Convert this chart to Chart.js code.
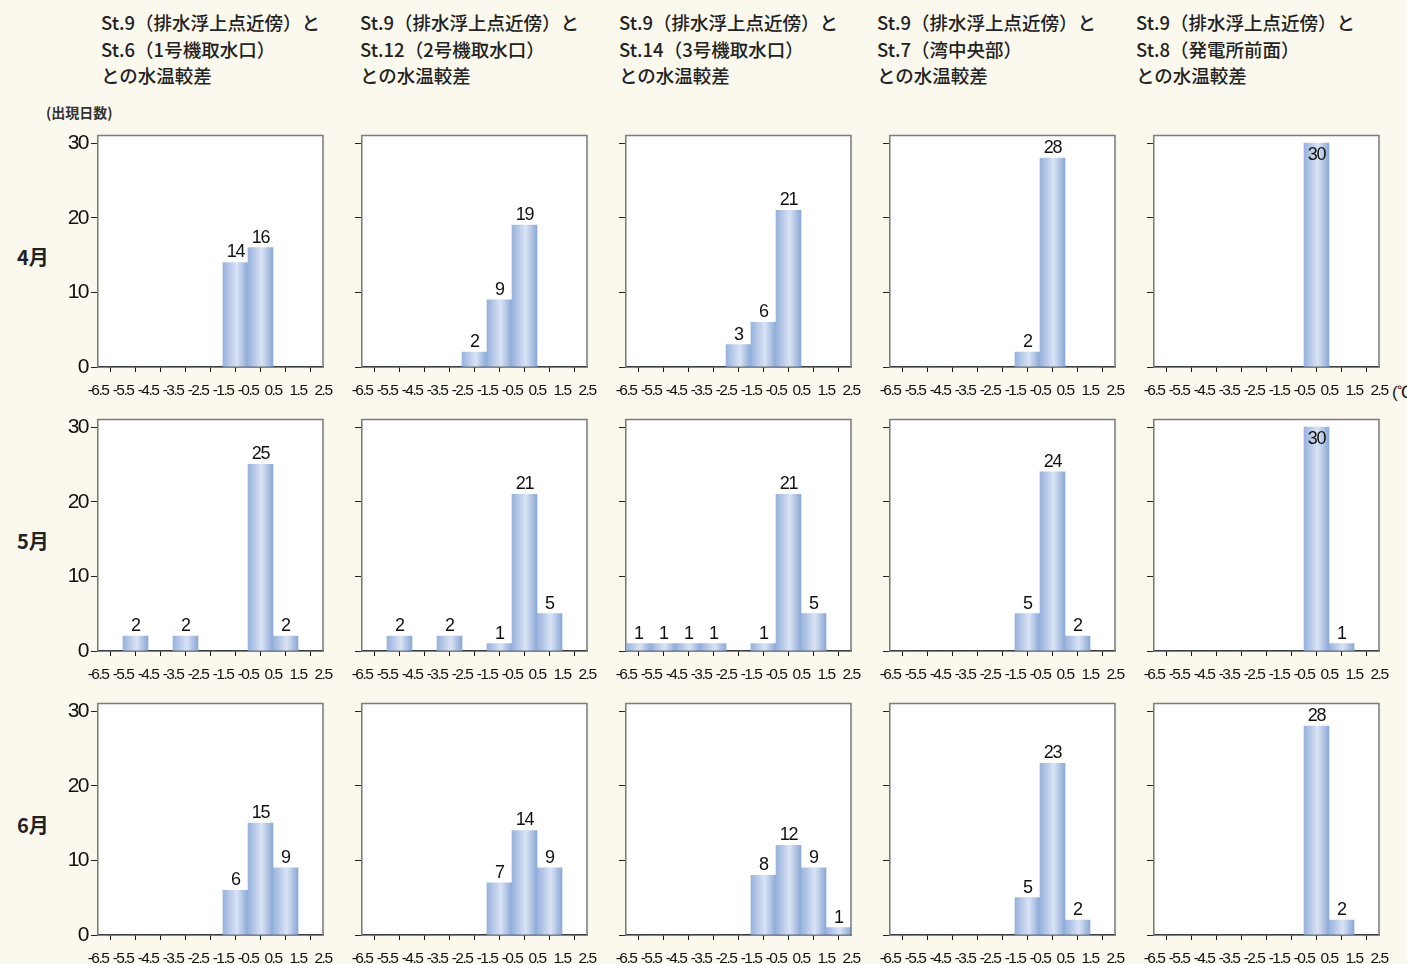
<!DOCTYPE html>
<html lang="ja">
<head>
<meta charset="utf-8">
<script src="https://cdn.jsdelivr.net/npm/chart.js@4/dist/chart.umd.min.js"></script>
<style>
  html, body { margin: 0; padding: 0; }
  body {
    width: 1407px; height: 964px; overflow: hidden; position: relative;
    background: #fbf9ee; font-family: "Noto Sans CJK JP", "Noto Sans", sans-serif;
  }
  .title {
    position: absolute; top: 9px; font-size: 18.5px; line-height: 26.5px;
    color: #222; font-weight: 500; white-space: nowrap;
  }
  .month {
    position: absolute; left: 17px; font-size: 20px; font-weight: bold; color: #222;
  }
  .unit { position: absolute; font-size: 14px; font-weight: bold; color: #333; }
  canvas { position: absolute; }
</style>
</head>
<body>
<div id="wrap"></div>
<script>
/* ── Data ── */
const BINS = [-6, -5, -4, -3, -2, -1, 0, 1, 2];
const X_TICKS = [-6.5, -5.5, -4.5, -3.5, -2.5, -1.5, -0.5, 0.5, 1.5, 2.5];
const Y_TICKS = [0, 10, 20, 30];
const MONTHS = ["4月", "5月", "6月"];
const TITLES = [
  ["St.9（排水浮上点近傍）と", "St.6（1号機取水口）", "との水温較差"],
  ["St.9（排水浮上点近傍）と", "St.12（2号機取水口）", "との水温較差"],
  ["St.9（排水浮上点近傍）と", "St.14（3号機取水口）", "との水温較差"],
  ["St.9（排水浮上点近傍）と", "St.7（湾中央部）", "との水温較差"],
  ["St.9（排水浮上点近傍）と", "St.8（発電所前面）", "との水温較差"],
];

// 出現日数 per bin (-6.5〜2.5, 1.0 step)
const APR_ST6 = [0, 0, 0, 0, 0, 14, 16, 0, 0];
const APR_ST12 = [0, 0, 0, 0, 2, 9, 19, 0, 0];
const APR_ST14 = [0, 0, 0, 0, 3, 6, 21, 0, 0];
const APR_ST7 = [0, 0, 0, 0, 0, 2, 28, 0, 0];
const APR_ST8 = [0, 0, 0, 0, 0, 0, 30, 0, 0];

const MAY_ST6 = [0, 2, 0, 2, 0, 0, 25, 2, 0];
const MAY_ST12 = [0, 2, 0, 2, 0, 1, 21, 5, 0];
const MAY_ST14 = [1, 1, 1, 1, 0, 1, 21, 5, 0];
const MAY_ST7 = [0, 0, 0, 0, 0, 5, 24, 2, 0];
const MAY_ST8 = [0, 0, 0, 0, 0, 0, 30, 1, 0];

const JUN_ST6 = [0, 0, 0, 0, 0, 6, 15, 9, 0];
const JUN_ST12 = [0, 0, 0, 0, 0, 7, 14, 9, 0];
const JUN_ST14 = [0, 0, 0, 0, 0, 8, 12, 9, 1];
const JUN_ST7 = [0, 0, 0, 0, 0, 5, 23, 2, 0];
const JUN_ST8 = [0, 0, 0, 0, 0, 0, 28, 2, 0];

const ROWS = [
  [APR_ST6, APR_ST12, APR_ST14, APR_ST7, APR_ST8],
  [MAY_ST6, MAY_ST12, MAY_ST14, MAY_ST7, MAY_ST8],
  [JUN_ST6, JUN_ST12, JUN_ST14, JUN_ST7, JUN_ST8],
];

/* ── Layout ── */
const BOX_L = [98, 362, 626, 890, 1154];
const BOX_T = [134, 418, 702];
const BOX_W = 225, BOX_H = 233;
const Y_W = 55, PAD_T = 14, PAD_R = 24, X_H = 34;
const TITLE_L = [101, 360, 619, 877, 1136];
const SANS = "'Liberation Sans Narrow', 'Liberation Sans', Arial, sans-serif";

const wrap = document.getElementById("wrap");
TITLES.forEach((t, c) => {
  const d = document.createElement("div");
  d.className = "title";
  d.style.left = TITLE_L[c] + "px";
  d.innerHTML = t.join("<br>");
  wrap.appendChild(d);
});
MONTHS.forEach((m, r) => {
  const d = document.createElement("div");
  d.className = "month";
  d.style.top = BOX_T[r] + 108 + "px";
  d.textContent = m;
  wrap.appendChild(d);
});
const unitY = document.createElement("div");
unitY.className = "unit";
unitY.style.left = "46px";
unitY.style.top = "102px";
unitY.textContent = "(出現日数)";
wrap.appendChild(unitY);
const unitX = document.createElement("div");
unitX.className = "unit";
unitX.style.cssText = `left:1392px;top:381px;font-weight:normal;font-size:17px;font-family:${SANS};color:#111;letter-spacing:-1px`;
unitX.textContent = "(℃)";
wrap.appendChild(unitX);

/* ── Plugins ── */
// condensed look for all canvas text
const tightText = {
  id: "tightText",
  beforeDraw(chart) {
    chart.ctx.letterSpacing = "-1.5px";
  },
};
const plotBg = {
  id: "plotBg",
  beforeDraw(chart) {
    const { ctx, chartArea: a } = chart;
    ctx.save();
    ctx.fillStyle = "#fff";
    ctx.fillRect(a.left, a.top, a.right - a.left, a.bottom - a.top);
    ctx.restore();
  },
};
const frame = {
  id: "frame",
  afterDatasetsDraw(chart) {
    const { ctx, chartArea: a } = chart;
    ctx.save();
    ctx.strokeStyle = "#7a7a7a";
    ctx.lineWidth = 1.5;
    ctx.beginPath();
    ctx.moveTo(a.left, a.top);
    ctx.lineTo(a.right, a.top);
    ctx.lineTo(a.right, a.bottom);
    ctx.stroke();
    ctx.restore();
  },
};
const valueLabels = {
  id: "valueLabels",
  afterDatasetsDraw(chart) {
    const { ctx } = chart;
    const vals = chart.data.datasets[0].data;
    ctx.save();
    ctx.font = `18px ${SANS}`;
    ctx.letterSpacing = "-1.2px";
    ctx.fillStyle = "#111";
    ctx.textAlign = "center";
    chart.getDatasetMeta(0).data.forEach((bar, i) => {
      const v = vals[i].y;
      if (!v) return;
      if (v >= 30) {
        ctx.textBaseline = "top";
        ctx.fillText(v, bar.x, bar.y + 3);
      } else {
        ctx.textBaseline = "bottom";
        ctx.fillText(v, bar.x, bar.y - 1);
      }
    });
    ctx.restore();
  },
};

function barGradient(ctx) {
  const chart = ctx.chart;
  const xs = chart.scales.x;
  if (!chart.chartArea || !xs) return "#b7c9e8";
  const l = xs.getPixelForValue(BINS[ctx.dataIndex] - 0.5);
  const r = xs.getPixelForValue(BINS[ctx.dataIndex] + 0.5);
  const g = chart.ctx.createLinearGradient(l, 0, r, 0);
  g.addColorStop(0, "#97b2dd");
  g.addColorStop(0.55, "#dae3f4");
  g.addColorStop(1, "#8aa8d7");
  return g;
}

/* ── Charts ── */
ROWS.forEach((row, r) => {
  row.forEach((vals, c) => {
    const cv = document.createElement("canvas");
    const w = Y_W + BOX_W + PAD_R;
    const h = PAD_T + BOX_H + X_H;
    cv.width = w;
    cv.height = h;
    cv.style.left = BOX_L[c] - Y_W + "px";
    cv.style.top = BOX_T[r] - PAD_T + "px";
    cv.style.width = w + "px";
    cv.style.height = h + "px";
    wrap.appendChild(cv);

    new Chart(cv, {
      type: "bar",
      data: {
        datasets: [
          {
            data: BINS.map((b, i) => ({ x: b, y: vals[i] })),
            backgroundColor: barGradient,
            borderWidth: 0,
            barPercentage: 1,
            categoryPercentage: 1,
          },
        ],
      },
      options: {
        responsive: false,
        animation: false,
        events: [],
        layout: { padding: { top: PAD_T, right: PAD_R, left: 0, bottom: 0 } },
        plugins: { legend: { display: false }, tooltip: { enabled: false } },
        scales: {
          x: {
            type: "linear",
            offset: false,
            min: -6.5,
            max: 2.5,
            afterBuildTicks: (s) => {
              s.ticks = X_TICKS.map((v) => ({ value: v }));
            },
            afterFit: (s) => {
              s.height = X_H;
            },
            grid: { drawOnChartArea: false, tickLength: 5, color: "#111", lineWidth: 1 },
            border: { color: "#111", width: 1.5 },
            ticks: {
              autoSkip: false,
              maxRotation: 0,
              padding: 9,
              color: "#111",
              font: { family: SANS, size: 15.5 },
              callback: (v) => String(v),
            },
          },
          y: {
            min: 0,
            max: 31,
            afterBuildTicks: (s) => {
              s.ticks = Y_TICKS.map((v) => ({ value: v }));
            },
            afterFit: (s) => {
              s.width = Y_W;
            },
            grid: { drawOnChartArea: false, tickLength: 7, color: "#222", lineWidth: 1 },
            border: { color: "#777", width: 1.5 },
            ticks: {
              padding: 3,
              color: c === 0 ? "#111" : "transparent",
              font: { family: SANS, size: 21 },
            },
          },
        },
      },
      plugins: [tightText, plotBg, frame, valueLabels],
    });
  });
});
</script>
</body>
</html>
